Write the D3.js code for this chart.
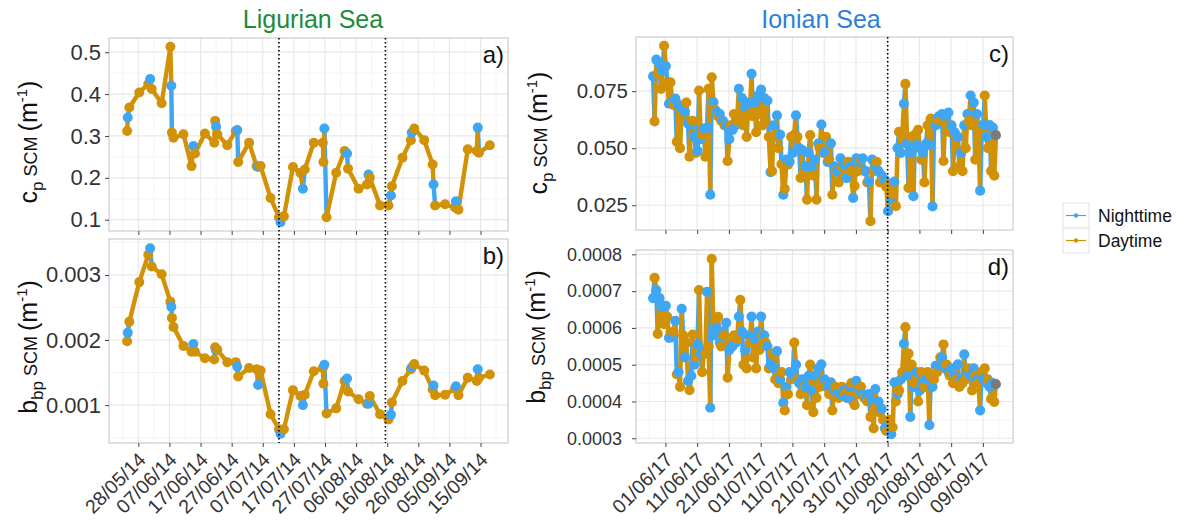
<!DOCTYPE html>
<html>
<head>
<meta charset="utf-8">
<script src="https://cdn.jsdelivr.net/npm/d3@7"></script>
<style>
  body { margin: 0; background: #fff; }
  svg { display: block; }
</style>
</head>
<body>
<div class="container"></div>
<script>
const width = 1185;
const height = 528;

// ---- Ligurian Sea 2014: days after 28/05/14, period (N night / D day), cp and bbp at the SCM
const ligDay = [-3.6,-3.4,-2.9,0.3,3.2,3.8,4.3,7.5,10.3,10.6,10.8,11.3,14.5,17.1,17.7,18.2,21.4,24.4,24.7,25.0,
  25.4,28.6,31.3,31.8,32.1,35.6,38.0,38.5,39.3,42.5,45.2,45.7,46.8,49.7,52.1,52.9,53.5,56.4,59.3,59.5,
  59.8,60.5,63.6,66.3,67.1,67.4,70.8,73.5,74.0,74.4,77.7,80.4,81.2,81.5,84.9,87.6,87.9,88.7,91.9,94.6,
  94.9,95.4,98.6,101.8,102.1,102.9,105.9,108.8,109.1,109.5,113.0];
const ligPer = "DNDDDNDDDNDDDDNDDDDNDDDNDDDNDDDNDDDNDDDDNDDDNDDDNDDDNDDDNDDDNDDDNDDDNDD".split("");
const ligCp = [.312,.344,.368,.404,.424,.436,.412,.378,.513,.420,.308,.296,.304,.228,.276,.258,.306,.284,.336,.322,
  .304,.278,.312,.314,.238,.284,.228,.226,.228,.152,.106,.094,.108,.226,.212,.174,.220,.284,.284,.238,
  .318,.106,.212,.264,.258,.222,.174,.184,.208,.200,.134,.134,.158,.180,.248,.290,.308,.318,.290,.232,
  .184,.134,.137,.129,.144,.124,.268,.264,.320,.260,.278];
const ligBbp = [.00198,.00211,.00228,.00289,.00331,.00341,.00313,.00301,.00259,.00251,.00234,.00220,.00191,.00182,.00194,.00182,.00172,.00170,.00189,.00184,
  .00185,.00166,.00166,.00159,.00144,.00157,.00155,.00131,.00153,.00086,.00063,.00056,.00063,.00123,.00114,.00100,.00116,.00152,.00157,.00133,
  .00162,.00087,.00095,.00137,.00141,.00121,.00109,.00102,.00102,.00114,.00086,.00078,.00085,.00104,.00137,.00155,.00158,.00163,.00153,.00124,
  .00130,.00115,.00116,.00125,.00129,.00115,.00142,.00137,.00155,.00142,.00147];

// ---- Ionian Sea 2017: one night (03h) and one day (14h) profile per date, 28/05/17 .. 12/09/17
const ionFirst = "28/05/17";
const ionLast = "12/09/17";
const ionCpNight = [.0815,.0888,.0869,.0840,.0860,.0695,.0700,.0717,.0690,.0676,
  .0660,.0608,.0600,.0550,.0488,.0540,.0586,.0590,.0296,.0702,
  .0660,.0650,.0620,.0600,.0540,.0580,.0600,.0760,.0720,.0680,
  .0700,.0826,.0700,.0730,.0757,.0720,.0709,.0395,.0600,.0644,
  .0560,.0296,.0450,.0441,.0480,.0644,.0500,.0492,.0420,.0480,
  .0416,.0450,.0520,.0604,.0480,.0440,.0521,.0420,.0400,.0456,
  .0430,.0369,.0420,.0282,.0456,.0440,.0456,.0400,.0354,.0450,
  .0420,.0400,.0380,.0360,.0224,.0275,.0354,.0500,.0480,.0695,
  .0520,.0480,.0290,.0514,.0500,.0480,.0520,.0514,.0245,.0600,
  .0640,.0650,.0640,.0656,.0600,.0570,.0550,.0480,.0600,.0650,
  .0731,.0700,.0650,.0314,.0604,.0550,.0601,.0590];
const ionCpDay = [.0618,.0826,.0760,.0949,.0789,.0789,.0690,.0528,.0500,.0637,
  .0700,.0463,.0620,.0480,.0753,.0560,.0463,.0760,.0811,.0669,
  .0640,.0620,.0600,.0444,.0600,.0650,.0620,.0650,.0600,.0550,
  .0650,.0640,.0570,.0650,.0600,.0620,.0550,.0400,.0550,.0500,
  .0430,.0322,.0428,.0550,.0560,.0550,.0370,.0400,.0275,.0557,
  .0380,.0275,.0500,.0480,.0550,.0450,.0296,.0400,.0350,.0420,
  .0380,.0440,.0400,.0335,.0400,.0450,.0400,.0350,.0180,.0400,
  .0440,.0350,.0360,.0330,.0340,.0300,.0246,.0572,.0550,.0782,
  .0326,.0550,.0560,.0580,.0450,.0350,.0600,.0630,.0600,.0630,
  .0620,.0444,.0600,.0570,.0400,.0500,.0420,.0400,.0500,.0620,
  .0600,.0450,.0580,.0560,.0731,.0500,.0400,.0380];
const ionBbpNight = [.000681,.000703,.000681,.000658,.000660,.000573,.000575,.000619,.000480,.000652,
  .000520,.000456,.000470,.000500,.000555,.000530,.000540,.000698,.000383,.000580,
  .000600,.000560,.000590,.000614,.000540,.000550,.000560,.000631,.000590,.000540,
  .000580,.000631,.000570,.000590,.000631,.000580,.000550,.000500,.000490,.000537,
  .000460,.000396,.000440,.000480,.000470,.000500,.000450,.000460,.000440,.000470,
  .000430,.000470,.000490,.000501,.000460,.000440,.000452,.000430,.000420,.000420,
  .000430,.000410,.000440,.000400,.000456,.000430,.000420,.000410,.000420,.000400,
  .000434,.000400,.000380,.000327,.000340,.000311,.000452,.000420,.000460,.000557,
  .000470,.000358,.000440,.000480,.000430,.000450,.000460,.000336,.000440,.000497,
  .000500,.000520,.000490,.000480,.000490,.000470,.000501,.000460,.000528,.000480,
  .000470,.000490,.000460,.000376,.000461,.000450,.000440,.000450];
const ionBbpDay = [.000736,.000584,.000630,.000610,.000630,.000587,.000590,.000474,.000440,.000580,
  .000560,.000431,.000582,.000520,.000703,.000480,.000530,.000550,.000788,.000620,
  .000630,.000550,.000580,.000465,.000560,.000580,.000570,.000676,.000500,.000490,
  .000560,.000520,.000490,.000540,.000580,.000560,.000490,.000530,.000460,.000450,
  .000480,.000376,.000420,.000460,.000560,.000460,.000420,.000440,.000390,.000500,
  .000371,.000410,.000440,.000460,.000440,.000420,.000376,.000440,.000410,.000440,
  .000420,.000430,.000450,.000390,.000420,.000440,.000410,.000400,.000358,.000327,
  .000390,.000370,.000350,.000320,.000350,.000330,.000400,.000430,.000480,.000602,
  .000530,.000500,.000450,.000400,.000480,.000440,.000480,.000470,.000460,.000480,
  .000520,.000555,.000500,.000470,.000450,.000460,.000440,.000450,.000460,.000490,
  .000430,.000470,.000450,.000480,.000490,.000460,.000407,.000399];
// last profile has no day/night flag (grey)
const ionExtra = { time: "13/09/17 02:00", cp: .0557, bbp: .000447 };

const ligTicks = ["28/05/14","07/06/14","17/06/14","27/06/14","07/07/14","17/07/14","27/07/14","06/08/14","16/08/14","26/08/14","05/09/14","15/09/14"];
const ionTicks = ["01/06/17","11/06/17","21/06/17","01/07/17","11/07/17","21/07/17","31/07/17","10/08/17","20/08/17","30/08/17","09/09/17"];
const ligBreaks = ["12/07/14 05:00", "15/08/14 10:00"];
const ionBreaks = ["10/08/17 00:00"];
const cpTicksLig = [0.1, 0.2, 0.3, 0.4, 0.5];
const bbpTicksLig = [0.001, 0.002, 0.003];
const cpTicksIon = [0.025, 0.050, 0.075];
const bbpTicksIon = [0.0003, 0.0004, 0.0005, 0.0006, 0.0007, 0.0008];

const colors = { N: "#3fa6f3", D: "#d29208", X: "#7a7a7a" };
const parseDay = d3.timeParse("%d/%m/%y");
const parseTime = d3.timeParse("%d/%m/%y %H:%M");

// build records
const ligOrigin = parseDay("28/05/14");
const ligData = ligDay.map((d, i) => ({
  t: new Date(+ligOrigin + d * 864e5), per: ligPer[i], cp: ligCp[i], bbp: ligBbp[i]
}));

const ionData = [];
d3.timeDay.range(parseDay(ionFirst), d3.timeDay.offset(parseDay(ionLast), 1)).forEach((day, i) => {
  ionData.push({ t: d3.timeHour.offset(day, 3), per: "N", cp: ionCpNight[i], bbp: ionBbpNight[i] });
  ionData.push({ t: d3.timeHour.offset(day, 14), per: "D", cp: ionCpDay[i], bbp: ionBbpDay[i] });
});
ionData.push({ t: parseTime(ionExtra.time), per: "X", cp: ionExtra.cp, bbp: ionExtra.bbp });

const svg = d3.select(".container")
  .append("svg")
  .attr("width", width)
  .attr("height", height)
  .style("font-family", "'Liberation Sans', Arial, Helvetica, sans-serif");

// ggplot style 5% expansion
const expand = ([a, b]) => { const p = (b - a) * 0.05; return [+a - p, +b + p]; };

function drawPanel(p) {
  const g = svg.append("g");
  const x = d3.scaleTime()
    .domain(expand(d3.extent(p.data, d => d.t)).map(v => new Date(v)))
    .range([p.left, p.right]);
  const y = d3.scaleLinear()
    .domain(expand(d3.extent(p.data, d => d[p.key])))
    .range([p.bottom, p.top]);

  const xt = p.xTicks.map(parseDay);
  const [d0, d1] = x.domain();
  const xMinor = xt.map(t => d3.timeDay.offset(t, -5)).concat([d3.timeDay.offset(xt[xt.length - 1], 5)])
    .filter(t => t > d0 && t < d1);
  const step = p.yTicks[1] - p.yTicks[0];
  const [y0, y1] = y.domain();
  const yMinor = p.yTicks.map(v => v - step / 2).concat([p.yTicks[p.yTicks.length - 1] + step / 2])
    .filter(v => v > y0 && v < y1);

  g.append("rect")
    .attr("x", p.left).attr("y", p.top)
    .attr("width", p.right - p.left).attr("height", p.bottom - p.top)
    .attr("fill", "#fff");

  // grid
  const grid = g.append("g").attr("fill", "none");
  grid.selectAll(".xmin").data(xMinor).join("line")
    .attr("x1", d => x(d)).attr("x2", d => x(d)).attr("y1", p.top).attr("y2", p.bottom)
    .attr("stroke", "#f4f4f4").attr("stroke-width", 1);
  grid.selectAll(".ymin").data(yMinor).join("line")
    .attr("x1", p.left).attr("x2", p.right).attr("y1", d => y(d)).attr("y2", d => y(d))
    .attr("stroke", "#f4f4f4").attr("stroke-width", 1);
  grid.selectAll(".xmaj").data(xt).join("line")
    .attr("x1", d => x(d)).attr("x2", d => x(d)).attr("y1", p.top).attr("y2", p.bottom)
    .attr("stroke", "#e8e8e8").attr("stroke-width", 1.2);
  grid.selectAll(".ymaj").data(p.yTicks).join("line")
    .attr("x1", p.left).attr("x2", p.right).attr("y1", d => y(d)).attr("y2", d => y(d))
    .attr("stroke", "#e8e8e8").attr("stroke-width", 1.2);

  // path segments coloured by the period of their first point; night ones underneath
  const segs = d3.pairs(p.data).sort((a, b) => (a[0].per === "N") - (b[0].per === "N")).reverse();
  g.append("g").selectAll("line").data(segs).join("line")
    .attr("x1", d => x(d[0].t)).attr("y1", d => y(d[0][p.key]))
    .attr("x2", d => x(d[1].t)).attr("y2", d => y(d[1][p.key]))
    .attr("stroke", d => colors[d[0].per])
    .attr("stroke-width", p.lw)
    .attr("stroke-linecap", "round");

  g.append("g").selectAll("circle").data(p.data).join("circle")
    .attr("cx", d => x(d.t)).attr("cy", d => y(d[p.key]))
    .attr("r", p.r)
    .attr("fill", d => colors[d.per]);

  // border
  g.append("rect")
    .attr("x", p.left).attr("y", p.top)
    .attr("width", p.right - p.left).attr("height", p.bottom - p.top)
    .attr("fill", "none").attr("stroke", "#c2c2c2").attr("stroke-width", 1);

  // axes
  const ya = g.append("g")
    .attr("transform", `translate(${p.left},0)`)
    .call(d3.axisLeft(y).tickValues(p.yTicks).tickFormat(d3.format(p.yFmt)).tickSize(4).tickPadding(p.yPad));
  ya.select(".domain").remove();
  ya.selectAll("line").attr("stroke", "#444");
  ya.selectAll("text").attr("fill", "#333").style("font-size", p.yFont + "px");

  const xa = g.append("g")
    .attr("transform", `translate(0,${p.bottom})`)
    .call(d3.axisBottom(x).tickValues(xt).tickFormat(p.xLabels ? d3.timeFormat("%d/%m/%y") : "").tickSize(4));
  xa.select(".domain").remove();
  xa.selectAll("line").attr("stroke", "#444");
  xa.selectAll("text")
    .attr("x", 0).attr("y", 0).attr("dy", 0)
    .attr("text-anchor", "end")
    .attr("transform", "translate(8,18) rotate(-45)")
    .attr("fill", "#333")
    .style("font-size", "19.5px");

  // panel tag
  g.append("text")
    .attr("x", p.right - 4).attr("y", p.top + 25)
    .attr("text-anchor", "end")
    .style("font-size", "24px")
    .attr("fill", "#111")
    .text(p.tag);

  // y title with subscript / superscript
  const tt = g.append("text")
    .attr("transform", `translate(${p.titleX},${p.titleY}) rotate(-90)`)
    .attr("text-anchor", "middle")
    .attr("fill", "#111")
    .style("font-size", "25px");
  tt.append("tspan").text(p.sym);
  tt.append("tspan").attr("dy", 6).style("font-size", "17px").text(p.sub);
  tt.append("tspan").attr("dy", -6).style("font-size", "18px").text(" SCM ");
  tt.append("tspan").text("(m");
  tt.append("tspan").attr("dy", -10).style("font-size", "15px").text("-1");
  tt.append("tspan").attr("dy", 10).text(")");

  return x;
}

function breaks(x, list, top, bottom) {
  svg.append("g").selectAll("line").data(list.map(parseTime)).join("line")
    .attr("x1", d => x(d)).attr("x2", d => x(d))
    .attr("y1", top).attr("y2", bottom)
    .attr("stroke", "#000").attr("stroke-width", 1.6)
    .attr("stroke-dasharray", "1.6 2.4");
}

const xa = drawPanel({ data: ligData, key: "cp", left: 109, right: 508, top: 38, bottom: 231,
  xTicks: ligTicks, yTicks: cpTicksLig, yFmt: ".1f", yFont: 22, yPad: 4, xLabels: false, tag: "a)",
  sym: "c", sub: "p", titleX: 37, titleY: 142, r: 5, lw: 4.4 });
drawPanel({ data: ligData, key: "bbp", left: 109, right: 508, top: 239, bottom: 443,
  xTicks: ligTicks, yTicks: bbpTicksLig, yFmt: ".3f", yFont: 22, yPad: 4, xLabels: true, tag: "b)",
  sym: "b", sub: "bp", titleX: 37, titleY: 347, r: 5, lw: 4.4 });
const xc = drawPanel({ data: ionData, key: "cp", left: 636, right: 1013, top: 37, bottom: 230,
  xTicks: ionTicks, yTicks: cpTicksIon, yFmt: ".3f", yFont: 20.5, yPad: 4, xLabels: false, tag: "c)",
  sym: "c", sub: "p", titleX: 547, titleY: 133, r: 5.1, lw: 4.6 });
drawPanel({ data: ionData, key: "bbp", left: 636, right: 1013, top: 250, bottom: 443,
  xTicks: ionTicks, yTicks: bbpTicksIon, yFmt: ".4f", yFont: 18, yPad: 10, xLabels: true, tag: "d)",
  sym: "b", sub: "bp", titleX: 545, titleY: 337, r: 5.1, lw: 4.6 });

breaks(xa, ligBreaks, 38, 443);
breaks(xc, ionBreaks, 37, 443);

// titles
svg.append("text").attr("x", 313).attr("y", 28).attr("text-anchor", "middle")
  .style("font-size", "25px").attr("fill", "#1c8c3c").text("Ligurian Sea");
svg.append("text").attr("x", 821).attr("y", 28).attr("text-anchor", "middle")
  .style("font-size", "25px").attr("fill", "#2f7fd6").text("Ionian Sea");

// legend
const legend = svg.append("g").attr("transform", "translate(1063,203)");
[["N", "Nighttime"], ["D", "Daytime"]].forEach(([k, label], i) => {
  const row = legend.append("g").attr("transform", `translate(0,${i * 25})`);
  row.append("rect").attr("width", 26).attr("height", 25)
    .attr("fill", "#fff").attr("stroke", "#e2e2e2").attr("stroke-width", 1);
  row.append("line").attr("x1", 3).attr("x2", 23).attr("y1", 12.5).attr("y2", 12.5)
    .attr("stroke", colors[k]).attr("stroke-width", 1.2);
  row.append("circle").attr("cx", 13).attr("cy", 12.5).attr("r", 2.2).attr("fill", colors[k]);
  row.append("text").attr("x", 35).attr("y", 19)
    .style("font-size", "17.5px").attr("fill", "#111").text(label);
});
</script>
</body>
</html>
